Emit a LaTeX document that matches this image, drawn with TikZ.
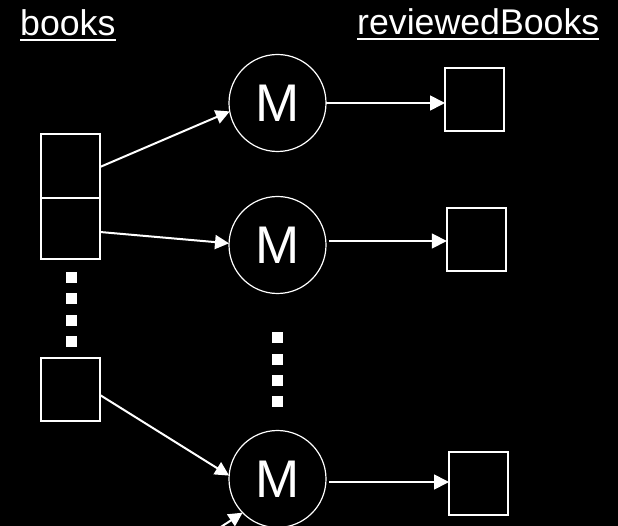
\documentclass[tikz,border=0pt]{standalone}
\usepackage{fontspec}
\setmainfont{Liberation Sans}
\usetikzlibrary{arrows.meta}
\begin{document}
\begin{tikzpicture}[x=1pt,y=-1pt,
  box/.style={draw=white,line width=1.7pt,minimum width=59pt,inner sep=0pt,outer sep=0pt},
  mapper/.style={circle,draw=white,line width=1.2pt,minimum size=97pt,inner sep=0pt,outer sep=0pt,text=white,font=\fontsize{53}{60}\selectfont},
  title/.style={text=white,anchor=base west,inner sep=0pt,font=\fontsize{35.7}{40}\selectfont},
  uline/.style={draw=white,line width=2pt},
  flow/.style={draw=white,line width=2pt,-{Triangle[length=14pt,width=14pt]}},
  outflow/.style={draw=white,line width=1.7pt,-{Triangle[length=15pt,width=15pt]}},
  dotsq/.style={fill=white}
]
\fill[black] (0,0) rectangle (618,526);
\path[use as bounding box] (0,0) rectangle (618,526);
\clip (0,0) rectangle (618,526);

% titles
\node[title] (books) at (20,35.5) {books};
\node[title] (reviewed) at (357,35) {reviewedBooks};
\draw[uline] ([yshift=-4.5pt]books.base west) -- ([yshift=-4.5pt]books.base east);
\draw[uline] ([yshift=-4.5pt]reviewed.base west) -- ([yshift=-4.5pt]reviewed.base east);

% input boxes
\node[box,minimum height=64pt] (b1) at (70.5,166) {};
\node[box,minimum height=61pt] (b2) at (70.5,228.5) {};
\node[box,minimum height=63pt] (b3) at (70.5,389.5) {};

% mappers
\node[mapper] (c1) at (277.5,103) {M};
\node[mapper] (c2) at (277.5,245) {M};
\node[mapper] (c3) at (277.5,479) {M};

% output boxes
\node[box,minimum height=63pt] (r1) at (474.5,99.5) {};
\node[box,minimum height=63pt] (r2) at (476.3,239.3) {};
\node[box,minimum height=63pt] (r3) at (478.5,483.3) {};

% dots
\foreach \yy in {277.5,299,320.5,341.5}
  \fill[dotsq] (66,\yy-5.5) rectangle (77,\yy+5.5);
\foreach \yy in {337.5,359,380.5,401.5}
  \fill[dotsq] (272,\yy-5.5) rectangle (283,\yy+5.5);

% input arrows
\draw[flow] ([yshift=-1pt]b1.east) -- (c1.190);
\draw[flow] ([yshift=-3.5pt]b2.east) -- (c2.178);
\draw[flow] ([yshift=-5.5pt]b3.east) -- (c3.176);
\coordinate (offin) at (195,544);
\draw[flow] (offin) -- (c3.224);

% output arrows
\coordinate (c2out) at ([yshift=4pt]c2.east);
\coordinate (c3out) at ([yshift=-3pt]c3.east);
\draw[outflow] (c1.east) -- (r1.west |- c1.east);
\draw[outflow,shorten <=3pt] (c2out) -- (r2.west |- c2out);
\draw[outflow,shorten <=3pt] (c3out) -- (r3.west |- c3out);
\end{tikzpicture}
\end{document}
